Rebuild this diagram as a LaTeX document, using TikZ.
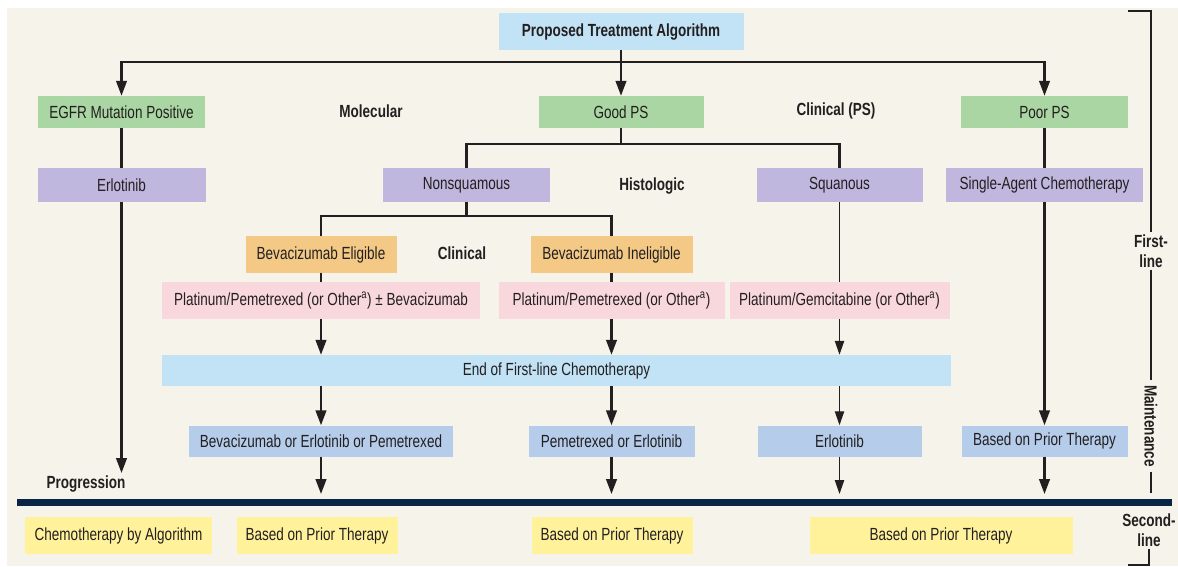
\documentclass[tikz,border=0pt]{standalone}
\usepackage{fontspec}
\setmainfont{Liberation Sans}[FakeStretch=0.77]
\usepackage{tikz}
\usepackage{xcolor}
\usetikzlibrary{arrows.meta}
\definecolor{bgbeige}{HTML}{F6F3EA}
\definecolor{txtgray}{HTML}{231F20}
\definecolor{titleblue}{HTML}{C2E3F5}
\definecolor{psgreen}{HTML}{A9D6A3}
\definecolor{histpurple}{HTML}{BFB7DD}
\definecolor{bevorange}{HTML}{F3C985}
\definecolor{platpink}{HTML}{F8D8DD}
\definecolor{maintblue}{HTML}{B5CDEA}
\definecolor{secyellow}{HTML}{FFF29B}
\definecolor{navyline}{HTML}{0A2446}

\begin{document}
\begin{tikzpicture}[x=0.03cm,y=-0.03cm,
box/.style 2 args={inner sep=0pt,minimum width=#1*0.03cm,minimum height=#2*0.03cm,text=txtgray,font=\fontsize{15}{17}\selectfont},
lbl/.style={font=\fontsize{15}{17}\selectfont\bfseries,text=txtgray,align=center,inner sep=2pt},
link/.style={line width=1.9pt,draw=txtgray},
thinlink/.style={line width=1.2pt,draw=txtgray,>={Triangle[length=0.42cm,width=0.28cm]}},
>={Triangle[length=0.45cm,width=0.32cm]}]
\useasboundingbox(0,0)rectangle(1178,567);
\fill[bgbeige](7,8)rectangle(1178,566);
\node[box={245}{37},fill=titleblue,font=\fontsize{15}{17}\selectfont\bfseries](title)at(621,31.5){Proposed Treatment Algorithm};
\node[box={167}{32},fill=psgreen](egfr)at(121.5,112){EGFR Mutation Positive};
\node[box={165}{32},fill=psgreen](good)at(621,112){Good PS};
\node[box={167}{32},fill=psgreen](poor)at(1044.5,112){Poor PS};
\node[lbl](molec)at(371,111){Molecular};
\node[lbl](clinps)at(836,111){Clinical (PS)};
\node[box={168}{34},fill=histpurple](erlo)at(121.5,185){Erlotinib};
\node[box={167}{34},fill=histpurple](nonsq)at(466.5,185){Nonsquamous};
\node[box={166}{34},fill=histpurple](squam)at(839.5,185){Squanous};
\node[box={197}{34},fill=histpurple](single)at(1044.5,185){Single-Agent Chemotherapy};
\node[lbl](histo)at(652,186){Histologic};
\node[box={151}{36},fill=bevorange](beveli)at(321,254.5){Bevacizumab Eligible};
\node[box={162}{36},fill=bevorange](bevinel)at(611.5,254.5){Bevacizumab Ineligible};
\node[lbl](clin)at(462,253){Clinical};
\node[box={318}{37},fill=platpink](plat1)at(321,300.5){Platinum/Pemetrexed (or Other\textsuperscript{a}) ± Bevacizumab};
\node[box={226}{37},fill=platpink](plat2)at(611.5,300.5){Platinum/Pemetrexed (or Other\textsuperscript{a})};
\node[box={220}{37},fill=platpink](plat3)at(839.5,300.5){Platinum/Gemcitabine (or Other\textsuperscript{a})};
\node[box={789}{31},fill=titleblue](endfirst)at(556.5,370.5){End of First-line Chemotherapy};
\node[box={264}{31},fill=maintblue](main1)at(321,441){Bevacizumab or Erlotinib or Pemetrexed};
\node[box={166}{31},fill=maintblue](main2)at(611.5,441){Pemetrexed or Erlotinib};
\node[box={164}{31},fill=maintblue](main3)at(839.5,441){Erlotinib};
\node[box={166}{31},fill=maintblue](main4)at(1044.5,441){Based on Prior Therapy};
\node[lbl](progr)at(86,484){Progression};
\node[box={187}{37},fill=secyellow](sec1)at(118.5,535.5){Chemotherapy by Algorithm};
\node[box={161}{37},fill=secyellow](sec2)at(317,535.5){Based on Prior Therapy};
\node[box={161}{37},fill=secyellow](sec3)at(612,535.5){Based on Prior Therapy};
\node[box={263}{37},fill=secyellow](sec4)at(941,535.5){Based on Prior Therapy};
\node[lbl](firstlbl)at(1151,251){First-\\line};
\node[lbl,rotate=-90,inner xsep=4pt](maintlbl)at(1151,426){Maintenance};
\node[lbl](secondlbl)at(1149,530){Second-\\line};
\coordinate(split1)at(621,62);
\coordinate(split2)at(621,144);
\coordinate(split3)at(466.5,216);
\coordinate(progtip)at(121.5,473);
\coordinate(ruletop)at(0,494);
\coordinate(ruleL)at(17,502);
\coordinate(ruleR)at(1172,502);
\coordinate(brtop)at(1128,11);
\coordinate(brbot)at(1128,565);
\coordinate(mainttail)at(1151,493);
\draw[link,->](title)--(good);
\draw[link,->](split1)-|(egfr);
\draw[link,->](split1)-|(poor);
\draw[link](good)--(split2)-|(nonsq);
\draw[link](split2)-|(squam);
\draw[link](nonsq)--(split3)-|(beveli);
\draw[link](split3)-|(bevinel);
\draw[link](beveli)--(plat1);
\draw[link](bevinel)--(plat2);
\draw[thinlink](squam)--(plat3);
\draw[link](egfr)--(erlo);
\draw[link,->](erlo)--(progtip);
\draw[link](poor)--(single);
\draw[link,->](single)--(main4);
\draw[link,->](plat1)--(plat1|-endfirst.north);
\draw[link,->](plat2)--(plat2|-endfirst.north);
\draw[thinlink,->](plat3)--(plat3|-endfirst.north);
\draw[link,->](endfirst.south-|main1)--(main1);
\draw[link,->](endfirst.south-|main2)--(main2);
\draw[thinlink,->](endfirst.south-|main3)--(main3);
\foreach \m in {main1,main2,main4}
  \draw[link,->](\m)--(\m|-ruletop);
\draw[thinlink,->](main3)--(main3|-ruletop);
\draw[line width=0.21cm,navyline](ruleL)--(ruleR);
\draw[link](brtop)-|(firstlbl.north);
\draw[link](firstlbl.south)--(maintlbl.west);
\draw[link](maintlbl.east)--(mainttail);
\draw[link](secondlbl.south)|-(brbot);
\end{tikzpicture}
\end{document}
